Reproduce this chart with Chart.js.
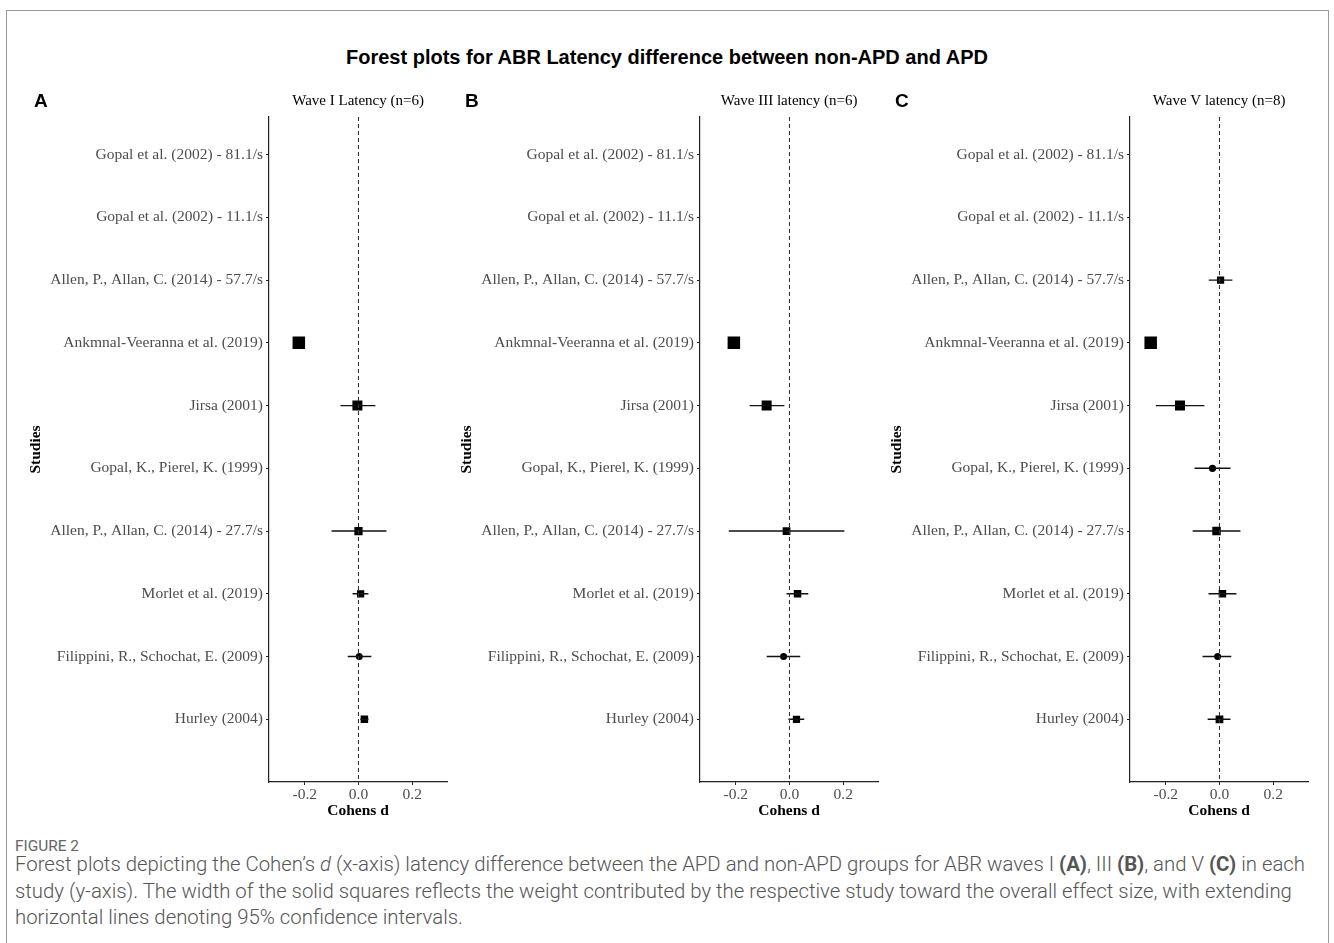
<!DOCTYPE html>
<html>
<head>
<meta charset="utf-8">
<script src="https://cdn.jsdelivr.net/npm/chart.js@4.4.1/dist/chart.umd.min.js"></script>
<style>
  body { margin: 0; background: #fff; }
  #page { position: relative; width: 1334px; height: 943px; overflow: hidden; }
  #frame { position: absolute; left: 6px; top: 10px; width: 1321px; height: 940px; border: 1px solid #9a9a9a; }
  #title { position: absolute; left: 0; width: 1334px; top: 46px; text-align: center;
           font: bold 20px "Liberation Sans", Arial, sans-serif; color: #000; }
  canvas { position: absolute; }
  #figno { position: absolute; left: 15px; top: 837px; font: 15px Roboto, sans-serif; color: #666;
           transform-origin: left top; white-space: nowrap; }
  #caption { position: absolute; left: 15px; top: 851px; font: 300 21px/26.7px Roboto, sans-serif; color: #555;
             transform-origin: left top; white-space: nowrap; }
  #caption b { font-weight: 700; }
</style>
</head>
<body>
<div id="page">
  <div id="frame"></div>
  <div id="title">Forest plots for ABR Latency difference between non-APD and APD</div>
  <canvas id="chartA" width="436" height="737" style="left:20px; top:85px;"></canvas>
  <canvas id="chartB" width="436" height="737" style="left:451px; top:85px;"></canvas>
  <canvas id="chartC" width="436" height="737" style="left:881px; top:85px;"></canvas>
  <div id="figno">FIGURE 2</div>
  <div id="caption"><span id="capLine1">Forest plots depicting the Cohen’s <i>d</i> (x-axis) latency difference between the APD and non-APD groups for ABR waves I <b>(A)</b>, III <b>(B)</b>, and V <b>(C)</b> in each</span><br>study (y-axis). The width of the solid squares reflects the weight contributed by the respective study toward the overall effect size, with extending<br>horizontal lines denoting 95% confidence intervals.</div>
</div>
<script>
// studies, top to bottom
const studies = [
  'Gopal et al. (2002) - 81.1/s',
  'Gopal et al. (2002) - 11.1/s',
  'Allen, P., Allan, C. (2014) - 57.7/s',
  'Ankmnal-Veeranna et al. (2019)',
  'Jirsa (2001)',
  'Gopal, K., Pierel, K. (1999)',
  'Allen, P., Allan, C. (2014) - 27.7/s',
  'Morlet et al. (2019)',
  'Filippini, R., Schochat, E. (2009)',
  'Hurley (2004)'
];
const markerShapes = ['rect', 'rect', 'rect', 'rect', 'rect', 'circle', 'rect', 'rect', 'circle', 'rect'];

const xTicks = [-0.2, 0, 0.2];
const xTickLabels = ['-0.2', '0.0', '0.2'];

// Wave I
const waveIEst = [null, null, null, -0.222, -0.004, null, 0.0, 0.008, 0.003, 0.022];
const waveILow = [null, null, null, null, -0.067, null, -0.1, -0.022, -0.04, 0.007];
const waveIHigh = [null, null, null, null, 0.063, null, 0.104, 0.037, 0.048, 0.037];
const waveIWeight = [null, null, null, 1.0, 0.8, null, 0.66, 0.58, 0.56, 0.6];

// Wave III
const waveIIIEst = [null, null, null, -0.207, -0.085, null, -0.011, 0.03, -0.022, 0.026];
const waveIIILow = [null, null, null, null, -0.148, null, -0.226, -0.011, -0.085, -0.004];
const waveIIIHigh = [null, null, null, null, -0.019, null, 0.204, 0.07, 0.04, 0.055];
const waveIIIWeight = [null, null, null, 1.0, 0.8, null, 0.62, 0.6, 0.56, 0.58];

// Wave V
const waveVEst = [null, null, 0.004, -0.256, -0.147, -0.026, -0.011, 0.011, -0.007, 0.0];
const waveVLow = [null, null, -0.04, null, -0.237, -0.093, -0.1, -0.041, -0.063, -0.044];
const waveVHigh = [null, null, 0.048, null, -0.056, 0.041, 0.078, 0.063, 0.044, 0.041];
const waveVWeight = [null, null, 0.58, 1.0, 0.8, 0.58, 0.68, 0.6, 0.56, 0.62];

const serif = '"Liberation Serif", "Times New Roman", serif';

const panelDecor = {
  id: 'panelDecor',
  afterDraw(chart, args, opts) {
    const { ctx, chartArea } = chart;
    ctx.save();
    ctx.fillStyle = '#000';
    ctx.textBaseline = 'middle';
    ctx.textAlign = 'center';
    ctx.font = '15px ' + serif;
    ctx.fillText(opts.subtitle, (chartArea.left + chartArea.right) / 2, chartArea.top - 16);
    ctx.textAlign = 'left';
    ctx.font = 'bold 19px "Liberation Sans", Arial, sans-serif';
    ctx.fillText(opts.letter, chartArea.left - 235, chartArea.top - 15);
    ctx.restore();
  }
};

function makePanel(id, letter, subtitle, est, low, high, weight) {
  const datasets = [];
  // reference line at zero
  datasets.push({
    data: [{ x: 0, y: 0.4 }, { x: 0, y: 11 }],
    showLine: true, borderColor: '#333', borderWidth: 1.1, borderDash: [4, 3], pointRadius: 0
  });
  // confidence intervals
  studies.forEach((s, i) => {
    if (low[i] === null || high[i] === null) return;
    datasets.push({
      data: [{ x: low[i], y: i + 1 }, { x: high[i], y: i + 1 }],
      showLine: true, borderColor: '#111', borderWidth: 1.4, pointRadius: 0
    });
  });
  // point estimates
  const pts = [], styles = [], radii = [];
  studies.forEach((s, i) => {
    if (est[i] === null) return;
    pts.push({ x: est[i], y: i + 1 });
    styles.push(markerShapes[i]);
    const side = 12.5 * weight[i];
    radii.push(markerShapes[i] === 'circle' ? side / 2 : side / Math.SQRT2);
  });
  datasets.push({
    data: pts, pointStyle: styles, pointRadius: radii, pointBorderWidth: 0,
    backgroundColor: '#000', borderColor: '#000', showLine: false
  });

  return new Chart(document.getElementById(id), {
    type: 'scatter',
    data: { datasets },
    options: {
      responsive: false,
      animation: false,
      layout: { padding: { top: 32, right: 3, left: 0, bottom: 0 } },
      plugins: {
        legend: { display: false },
        tooltip: { enabled: false },
        panelDecor: { letter, subtitle }
      },
      scales: {
        x: {
          type: 'linear', min: -0.333, max: 0.33,
          afterBuildTicks: (scale) => { scale.ticks = xTicks.map(v => ({ value: v })); },
          afterFit: (scale) => { scale.height = 40; },
          ticks: {
            callback: (v) => xTickLabels[xTicks.indexOf(v)],
            font: { family: serif, size: 15.5 }, color: '#4d4d4d', padding: 1, maxRotation: 0
          },
          grid: { display: true, drawOnChartArea: false, drawTicks: true, tickLength: 3, color: '#222' },
          border: { display: true, color: '#222', width: 1.2 },
          title: { display: true, text: 'Cohens d', font: { family: serif, size: 15.5, weight: 'bold' }, color: '#000', padding: { top: 0, bottom: 2 } }
        },
        y: {
          type: 'linear', min: 0.4, max: 11, reverse: true,
          afterBuildTicks: (scale) => { scale.ticks = studies.map((s, i) => ({ value: i + 1 })); },
          afterFit: (scale) => { scale.width = 249; },
          ticks: {
            callback: (v) => studies[v - 1],
            font: { family: serif, size: 15.5 }, color: '#4d4d4d', padding: 3
          },
          grid: { display: true, drawOnChartArea: false, drawTicks: true, tickLength: 3, color: '#222' },
          border: { display: true, color: '#222', width: 1.2 },
          title: { display: true, text: 'Studies', font: { family: serif, size: 15.5, weight: 'bold' }, color: '#000', padding: { top: 7, bottom: 0 } }
        }
      }
    },
    plugins: [panelDecor]
  });
}

makePanel('chartA', 'A', 'Wave I Latency (n=6)', waveIEst, waveILow, waveIHigh, waveIWeight);
makePanel('chartB', 'B', 'Wave III latency (n=6)', waveIIIEst, waveIIILow, waveIIIHigh, waveIIIWeight);
makePanel('chartC', 'C', 'Wave V latency (n=8)', waveVEst, waveVLow, waveVHigh, waveVWeight);

// squeeze the caption to the narrow face of the original figure
const cap = document.getElementById('caption');
const k = 1290 / document.getElementById('capLine1').getBoundingClientRect().width;
cap.style.transform = 'scaleX(' + k + ')';
const fig = document.getElementById('figno');
fig.style.transform = 'scaleX(' + (64 / fig.getBoundingClientRect().width) + ')';
</script>
</body>
</html>
